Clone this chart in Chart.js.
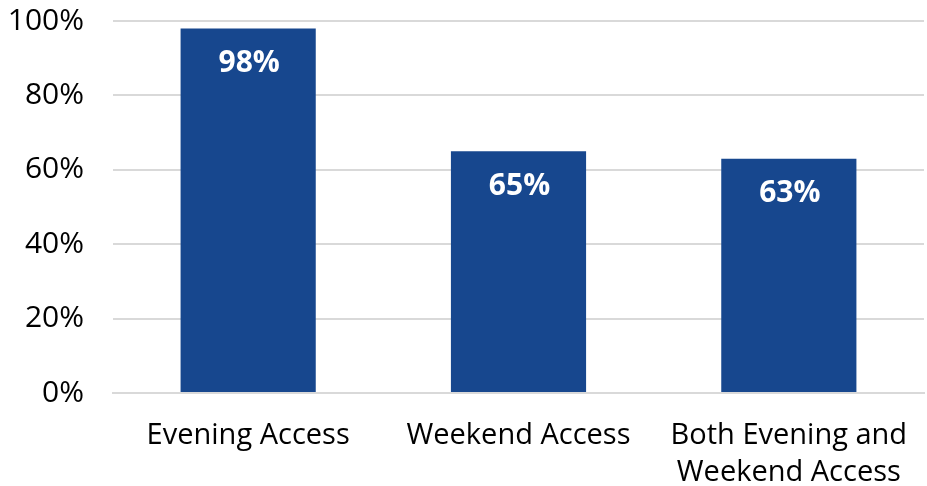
<!DOCTYPE html>
<html>
<head>
<meta charset="utf-8">
<script src="https://cdn.jsdelivr.net/npm/chart.js@4"></script>
<style>
  html, body { margin: 0; padding: 0; background: #fff; }
  #wrap { width: 927px; height: 486px; }
</style>
</head>
<body>
<div id="wrap"><canvas id="accessChart" width="927" height="486"></canvas></div>
<script>
const categories = ['Evening Access', 'Weekend Access', ['Both Evening and', 'Weekend Access']];
const values = [98, 65, 63];
const yTicks = [0, 20, 40, 60, 80, 100];

const FONT = "'Open Sans', 'Noto Sans', sans-serif";

// white percentage labels near the top of each bar
const barLabels = {
  id: 'barLabels',
  afterDatasetsDraw(chart) {
    const ctx = chart.ctx;
    const meta = chart.getDatasetMeta(0);
    ctx.save();
    ctx.fillStyle = '#fff';
    ctx.font = 'bold 30px ' + FONT;
    ctx.textAlign = 'center';
    ctx.textBaseline = 'middle';
    meta.data.forEach((bar, i) => {
      ctx.fillText(values[i] + '%', bar.x + 1, bar.y + 35);
    });
    ctx.restore();
  }
};

new Chart(document.getElementById('accessChart'), {
  type: 'bar',
  data: {
    labels: categories,
    datasets: [{
      data: values,
      backgroundColor: '#17478e',
      categoryPercentage: 1,
      barPercentage: 0.5
    }]
  },
  options: {
    responsive: false,
    animation: false,
    layout: { padding: { top: 21, right: 3, left: 0, bottom: 0 } },
    scales: {
      x: {
        grid: { display: false },
        border: { display: true, color: '#d9d9d9', width: 2 },
        ticks: { color: '#000', font: { family: FONT, size: 29, lineHeight: 1.28 }, padding: 16, maxRotation: 0, autoSkip: false },
        afterFit(scale) { scale.height = 93; }
      },
      y: {
        min: 0,
        max: 100,
        afterBuildTicks(scale) { scale.ticks = yTicks.map(v => ({ value: v })); },
        grid: { color: '#d9d9d9', lineWidth: 2, drawTicks: false },
        border: { display: false },
        ticks: {
          color: '#000',
          font: { family: FONT, size: 30 },
          padding: 29,
          callback: v => v + '%'
        },
        afterFit(scale) { scale.width = 113; scale.paddingTop = 0; scale.paddingBottom = 0; }
      }
    },
    plugins: {
      legend: { display: false },
      tooltip: { enabled: false }
    }
  },
  plugins: [barLabels]
});
</script>
</body>
</html>
